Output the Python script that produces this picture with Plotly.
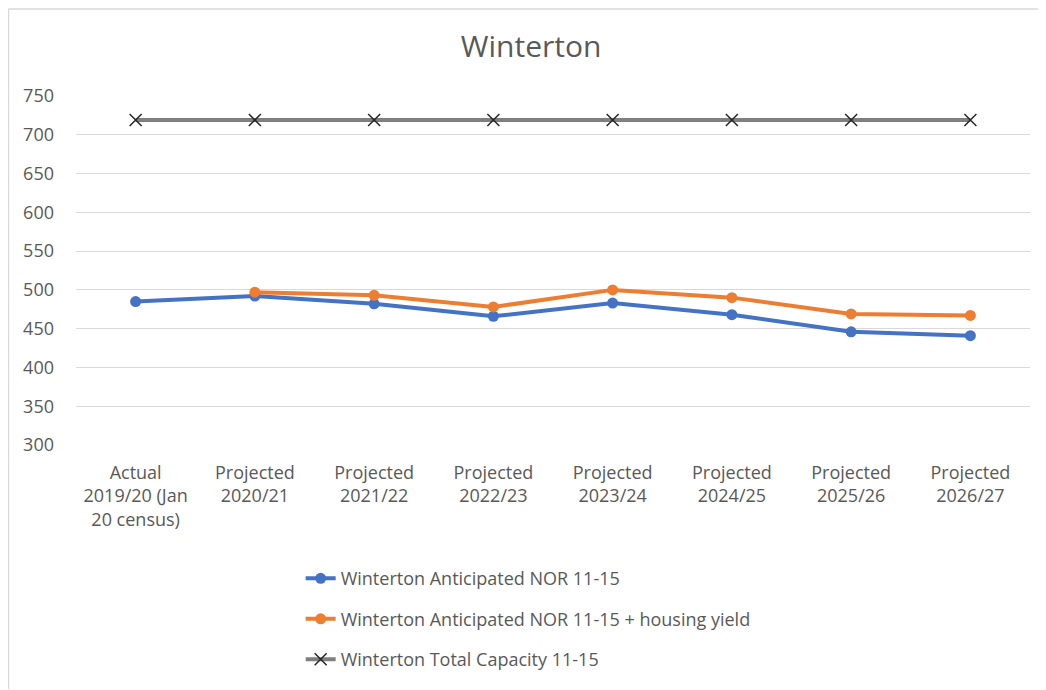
import plotly.graph_objects as go

categories = [
    "Actual<br>2019/20 (Jan<br>20 census)",
    "Projected<br>2020/21",
    "Projected<br>2021/22",
    "Projected<br>2022/23",
    "Projected<br>2023/24",
    "Projected<br>2024/25",
    "Projected<br>2025/26",
    "Projected<br>2026/27",
]
nor = [485, 492, 482, 466, 483, 468, 446, 441]
nor_housing = [None, 497, 493, 478, 500, 490, 469, 467]
capacity = [719, 719, 719, 719, 719, 719, 719, 719]
y_ticks = [300, 350, 400, 450, 500, 550, 600, 650, 700, 750]

FONT = "Open Sans, DejaVu Sans, sans-serif"
GREY = "#595959"

fig = go.Figure()

fig.add_trace(go.Scatter(
    x=categories, y=nor, name="Winterton Anticipated NOR 11-15",
    mode="lines+markers", legendgroup="a",
    line=dict(color="#4472C4", width=4),
    marker=dict(size=11, color="#4472C4")))

fig.add_trace(go.Scatter(
    x=categories, y=nor_housing, name="Winterton Anticipated NOR 11-15 + housing yield",
    mode="lines+markers", legendgroup="b",
    line=dict(color="#ED7D31", width=4),
    marker=dict(size=11, color="#ED7D31")))

fig.add_trace(go.Scatter(
    x=categories, y=capacity, name="Winterton Total Capacity 11-15",
    mode="lines+markers", legendgroup="c",
    line=dict(color="#7F7F7F", width=4),
    marker=dict(symbol="x-thin", size=12, color="#262626",
                line=dict(color="#262626", width=1.5))))

# page body has an 8px margin, so the figure starts at (8, 8)
fig.update_layout(
    width=1038, height=682,
    paper_bgcolor="white", plot_bgcolor="white",
    margin=dict(l=68, r=16, t=88, b=243),
    font=dict(family=FONT, color=GREY, size=18),
    title=dict(text="Winterton", x=0.504, xanchor="center", y=0.944, yanchor="middle",
               font=dict(size=30, color=GREY, family=FONT)),
    xaxis=dict(showgrid=False, showline=False, ticks="", tickfont=dict(size=18, color=GREY),
               range=[-0.5, 7.5], ticklabelstandoff=15),
    yaxis=dict(range=[300, 750], tickvals=y_ticks, showgrid=True, gridcolor="#D9D9D9",
               gridwidth=1, zeroline=False, showline=False, ticks="",
               tickfont=dict(size=18, color=GREY), ticklabelstandoff=21),
    legend=dict(orientation="v", x=0.2355, xanchor="left", y=-0.33, yanchor="top",
                font=dict(size=18, color=GREY), tracegroupgap=14, bgcolor="rgba(0,0,0,0)"),
    showlegend=True,
)

# chart area border (top and left edges only are visible)
fig.add_shape(type="line", xref="paper", yref="paper",
              x0=-0.0708, x1=1.02, y0=1.249, y1=1.249,
              line=dict(color="#D9D9D9", width=1.5))
fig.add_shape(type="line", xref="paper", yref="paper",
              x0=-0.0708, x1=-0.0708, y0=1.249, y1=-0.7,
              line=dict(color="#D9D9D9", width=1.5))

fig.write_html("out.html")
